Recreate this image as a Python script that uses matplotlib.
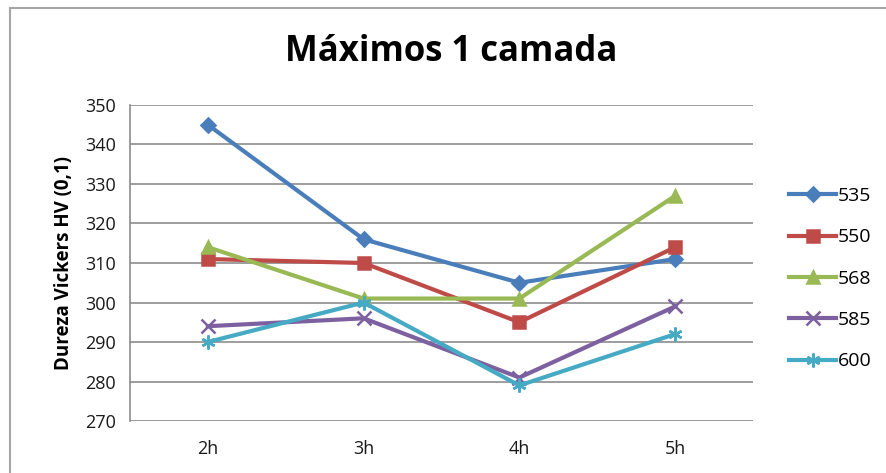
import matplotlib.pyplot as plt
from matplotlib.patches import Rectangle

plt.rcParams['font.family'] = ['Open Sans', 'DejaVu Sans']

# Tempos de tratamento e durezas máximas por temperatura
tempos = ["2h", "3h", "4h", "5h"]
series = ["535", "550", "568", "585", "600"]
v535 = [345, 316, 305, 311]
v550 = [311, 310, 295, 314]
v568 = [314, 301, 301, 327]
v585 = [294, 296, 281, 299]
v600 = [290, 300, 279, 292]
valores = [v535, v550, v568, v585, v600]

cores = ["#4a7ebb", "#be4b48", "#98b954", "#7d60a0", "#46aac5"]
marcadores = ["D", "s", "^", "x", (6, 2, 0)]
tamanhos = [7, 9, 9, 10, 10]

fig = plt.figure(figsize=(8.87, 4.73), dpi=100)
ax = fig.add_axes([130 / 887, 1 - 421 / 473, 623 / 887, 316 / 473])

# moldura cinza do gráfico
fig.patches.append(Rectangle((10 / 887, -0.05), 1.0, 1 - 8 / 473 + 0.05,
                             transform=fig.transFigure, fill=False,
                             edgecolor="#a6a6a6", linewidth=1.5))

x = range(len(tempos))
for nome, v, c, m, s in zip(series, valores, cores, marcadores, tamanhos):
    ax.plot(x, v, color=c, linewidth=3, marker=m, markersize=s,
            markeredgewidth=1.8, label=nome)

ax.set_xlim(-0.5, 3.5)
ax.set_ylim(270, 350)
ax.set_yticks(range(270, 351, 10))
ax.set_xticks(list(x))
ax.set_xticklabels(tempos)
ax.grid(axis="y", color="#8c8c8c", linewidth=1.2)
ax.set_axisbelow(True)
for lado in ["top", "right", "bottom"]:
    ax.spines[lado].set_visible(False)
ax.spines["left"].set_color("#8c8c8c")
ax.spines["left"].set_linewidth(1.2)
ax.tick_params(length=0, labelsize=13, colors="#1a1a1a", pad=10)
ax.tick_params(axis="x", pad=14)

ax.set_ylabel("Dureza Vickers HV (0,1)", fontsize=13.5, fontweight="bold",
              labelpad=8)
fig.text(451 / 887, 1 - 52 / 473, "Máximos 1 camada", fontsize=25,
         fontweight="bold", ha="center", va="center")

ax.legend(loc="center left", bbox_to_anchor=(1.03, 0.45), frameon=False,
          fontsize=14, handlelength=2.4, handletextpad=0.1, labelspacing=1.2)

fig.savefig("out.png", dpi=100)
